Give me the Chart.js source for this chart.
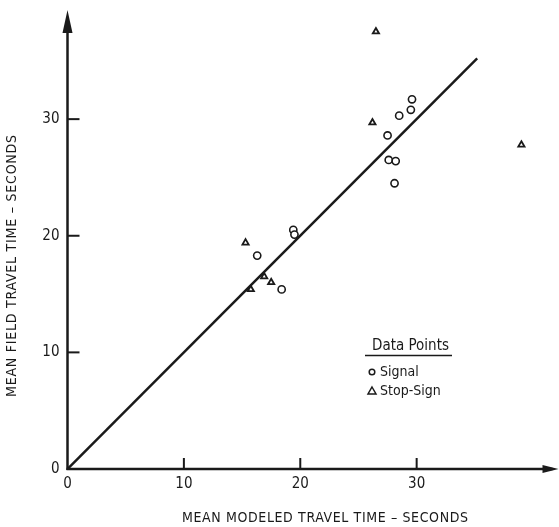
<!DOCTYPE html>
<html>
<head>
<meta charset="utf-8">
<script src="https://cdn.jsdelivr.net/npm/chart.js@4.4.1/dist/chart.umd.min.js"></script>
<style>
html,body{margin:0;padding:0;background:#fff;}
#wrap{width:559px;height:527px;position:relative;}
</style>
</head>
<body>
<div id="wrap"><canvas id="c"></canvas></div>
<script>
// ---- data ----
const signalX = [29.6, 29.5, 28.5, 27.5, 27.6, 28.2, 28.1, 19.4, 19.5, 16.3, 18.4];
const signalY = [31.7, 30.8, 30.3, 28.6, 26.5, 26.4, 24.5, 20.5, 20.1, 18.3, 15.4];
const stopX = [26.5, 26.2, 39.0, 15.3, 16.9, 17.5, 15.75];
const stopY = [37.5, 29.7, 27.8, 19.4, 16.5, 16.0, 15.4];
const fitX = [0, 35.2];
const fitY = [0, 35.2];
const xTicks = [0, 10, 20, 30];
const yTicks = [0, 10, 20, 30];
const xTitle = 'MEAN MODELED TRAVEL TIME – SECONDS';
const yTitle = 'MEAN FIELD TRAVEL TIME – SECONDS';
const legendTitle = 'Data Points';
const seriesNames = ['Signal', 'Stop-Sign'];

const FONT = "'Liberation Sans Narrow', 'DejaVu Sans Condensed', 'Arial Narrow', sans-serif";
const INK = '#1a1a1a';

const zip = (xs, ys) => xs.map((x, i) => ({x: x, y: ys[i]}));

const axesPlugin = {
  id: 'axesPlugin',
  afterDraw(chart) {
    const ctx = chart.ctx;
    const xs = chart.scales.x, ys = chart.scales.y;
    const ca = chart.chartArea;
    const x0 = xs.getPixelForValue(0), y0 = ys.getPixelForValue(0);
    ctx.save();
    ctx.strokeStyle = INK; ctx.fillStyle = INK;
    ctx.lineWidth = 2.5; ctx.lineCap = 'butt';
    // y axis
    ctx.beginPath(); ctx.moveTo(x0, y0 + 1); ctx.lineTo(x0, ca.top - 2); ctx.stroke();
    ctx.beginPath(); ctx.moveTo(x0, ca.top - 10); ctx.lineTo(x0 - 5, ca.top + 13); ctx.lineTo(x0 + 5, ca.top + 13); ctx.closePath(); ctx.fill();
    // x axis
    ctx.beginPath(); ctx.moveTo(x0 - 1, y0); ctx.lineTo(ca.right + 2, y0); ctx.stroke();
    ctx.beginPath(); ctx.moveTo(ca.right + 8, y0); ctx.lineTo(ca.right - 8, y0 - 4); ctx.lineTo(ca.right - 8, y0 + 4); ctx.closePath(); ctx.fill();
    // tick marks (inside)
    ctx.lineWidth = 2;
    yTicks.forEach(v => { if (v === 0) return; const p = ys.getPixelForValue(v); ctx.beginPath(); ctx.moveTo(x0, p); ctx.lineTo(x0 + 12, p); ctx.stroke(); });
    xTicks.forEach(v => { if (v === 0) return; const p = xs.getPixelForValue(v); ctx.beginPath(); ctx.moveTo(p, y0); ctx.lineTo(p, y0 - 11); ctx.stroke(); });

    // axis titles with letter spacing
    const spaced = (text, width) => {
      ctx.letterSpacing = '0px';
      const w = ctx.measureText(text).width;
      const s = Math.max(0, (width - w) / (text.length - 1));
      ctx.letterSpacing = s + 'px';
    };
    ctx.font = '14px ' + FONT;
    ctx.textAlign = 'center'; ctx.textBaseline = 'middle';
    spaced(xTitle, 286);
    ctx.fillText(xTitle, 325 + parseFloat(ctx.letterSpacing) / 2, 518);
    ctx.save();
    ctx.translate(12, 266); ctx.rotate(-Math.PI / 2);
    spaced(yTitle, 262);
    ctx.fillText(yTitle, parseFloat(ctx.letterSpacing) / 2, 0);
    ctx.restore();
    ctx.letterSpacing = '0px';

    // legend
    ctx.font = '15px ' + FONT;
    ctx.textAlign = 'left'; ctx.textBaseline = 'middle';
    ctx.fillText(legendTitle, 372, 346);
    ctx.lineWidth = 1.5;
    ctx.beginPath(); ctx.moveTo(365, 355.5); ctx.lineTo(452, 355.5); ctx.stroke();
    ctx.font = '14px ' + FONT;
    ctx.fillText(seriesNames[0], 380, 372);
    ctx.fillText(seriesNames[1], 380, 391);
    ctx.lineWidth = 1.5;
    ctx.beginPath(); ctx.arc(372, 372, 2.8, 0, Math.PI * 2); ctx.stroke();
    ctx.beginPath(); ctx.moveTo(372, 387); ctx.lineTo(376, 394); ctx.lineTo(368, 394); ctx.closePath(); ctx.stroke();
    ctx.restore();
  }
};

new Chart(document.getElementById('c'), {
  type: 'scatter',
  data: {
    datasets: [
      {
        type: 'line', label: 'fit', data: zip(fitX, fitY),
        borderColor: INK, borderWidth: 2.5, pointRadius: 0, fill: false, tension: 0, order: 2
      },
      {
        label: seriesNames[0], data: zip(signalX, signalY),
        pointStyle: 'circle', pointRadius: 3.6, borderWidth: 1.6,
        borderColor: INK, backgroundColor: '#fff', order: 1
      },
      {
        label: seriesNames[1], data: zip(stopX, stopY),
        pointStyle: 'triangle', pointRadius: 3.6, borderWidth: 1.8,
        borderColor: INK, backgroundColor: '#fff', order: 1
      }
    ]
  },
  options: {
    responsive: true, maintainAspectRatio: false, animation: false,
    layout: {padding: {left: 0, right: 8.5, top: 20, bottom: 0}},
    plugins: {legend: {display: false}, tooltip: {enabled: false}},
    scales: {
      x: {
        type: 'linear', min: 0, max: 41.5,
        afterFit(s) { s.height = 58; },
        afterBuildTicks(s) { s.ticks = xTicks.map(v => ({value: v})); },
        grid: {display: false, drawTicks: false}, border: {display: false},
        ticks: {padding: 6, color: INK, font: {family: FONT, size: 15}, maxRotation: 0}
      },
      y: {
        type: 'linear', min: 0, max: 38.5,
        afterFit(s) { s.width = 67.5; },
        afterBuildTicks(s) { s.ticks = yTicks.map(v => ({value: v})); },
        grid: {display: false, drawTicks: false}, border: {display: false},
        ticks: {padding: 8, color: INK, font: {family: FONT, size: 15}}
      }
    }
  },
  plugins: [axesPlugin]
});
</script>
</body>
</html>
